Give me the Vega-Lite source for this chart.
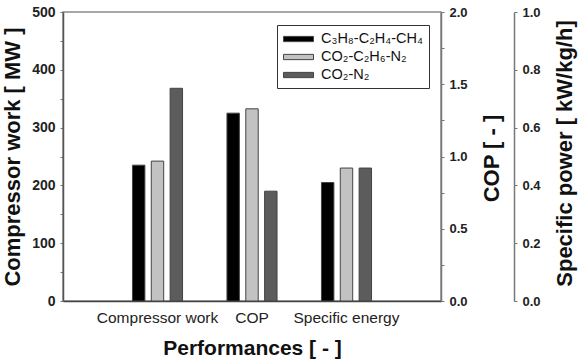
{
  "$schema": "https://vega.github.io/schema/vega-lite/v6.json",
  "autosize": {"type": "none"},
  "padding": {"left": 63, "top": 12, "right": 141, "bottom": 62},
  "width": 378,
  "height": 289,
  "background": "white",
  "config": {
    "font": "Liberation Sans",
    "view": {"stroke": "#8a8a8a", "strokeWidth": 1.5},
    "axis": {
      "labelFont": "Liberation Sans",
      "titleFont": "Liberation Sans",
      "labelColor": "#222",
      "titleColor": "#111",
      "domainColor": "#777",
      "domainWidth": 1.5,
      "tickColor": "#777",
      "grid": false
    }
  },
  "data": {
    "values": [
      {"metric": "Compressor work", "mixture": "C₃H₈-C₂H₄-CH₄", "value": 235},
      {"metric": "Compressor work", "mixture": "CO₂-C₂H₆-N₂", "value": 242},
      {"metric": "Compressor work", "mixture": "CO₂-N₂", "value": 368},
      {"metric": "COP", "mixture": "C₃H₈-C₂H₄-CH₄", "value": 1.30},
      {"metric": "COP", "mixture": "CO₂-C₂H₆-N₂", "value": 1.33},
      {"metric": "COP", "mixture": "CO₂-N₂", "value": 0.76},
      {"metric": "Specific energy", "mixture": "C₃H₈-C₂H₄-CH₄", "value": 0.41},
      {"metric": "Specific energy", "mixture": "CO₂-C₂H₆-N₂", "value": 0.46},
      {"metric": "Specific energy", "mixture": "CO₂-N₂", "value": 0.46}
    ]
  },
  "encoding": {
    "x": {
      "field": "metric",
      "type": "nominal",
      "sort": ["Compressor work", "COP", "Specific energy"],
      "scale": {"domain": ["Compressor work", "COP", "Specific energy"], "paddingInner": 0.47, "paddingOuter": 0.735},
      "axis": {
        "title": "Performances [ - ]",
        "titleFontSize": 21,
        "titleFontWeight": "bold",
        "titlePadding": 12,
        "labelAngle": 0,
        "labelFontSize": 15.5,
        "labelPadding": 9,
        "ticks": false,
        "domainColor": "#444"
      }
    },
    "xOffset": {
      "field": "mixture",
      "type": "nominal",
      "sort": ["C₃H₈-C₂H₄-CH₄", "CO₂-C₂H₆-N₂", "CO₂-N₂"],
      "scale": {"paddingInner": 0.34, "paddingOuter": 0}
    },
    "color": {
      "field": "mixture",
      "type": "nominal",
      "sort": ["C₃H₈-C₂H₄-CH₄", "CO₂-C₂H₆-N₂", "CO₂-N₂"],
      "scale": {
        "domain": ["C₃H₈-C₂H₄-CH₄", "CO₂-C₂H₆-N₂", "CO₂-N₂"],
        "range": ["#000000", "#c2c2c2", "#5c5c5c"]
      },
      "legend": {
        "title": null,
        "orient": "none",
        "legendX": 214,
        "legendY": 13,
        "strokeColor": "#333",
        "padding": 6,
        "fillColor": "white",
        "labelFont": "Liberation Sans",
        "labelFontSize": 14.5,
        "labelColor": "#111",
        "symbolType": "M-1,-0.35H3V0.35H-1Z",
        "symbolSize": 225,
        "symbolStrokeColor": "#444",
        "symbolStrokeWidth": 1,
        "symbolOpacity": 1,
        "rowPadding": 3,
        "labelOffset": 22
      }
    }
  },
  "layer": [
    {
      "transform": [{"filter": "datum.metric === 'Compressor work'"}],
      "mark": {"type": "bar", "stroke": "#444", "strokeWidth": 1},
      "encoding": {
        "y": {
          "field": "value",
          "type": "quantitative",
          "scale": {"domain": [0, 500], "nice": false},
          "axis": {
            "orient": "left",
            "title": "Compressor work [ MW ]",
            "titleFontSize": 22,
            "titleFontWeight": "bold",
            "titlePadding": 7,
            "values": [0, 50, 100, 150, 200, 250, 300, 350, 400, 450, 500],
            "labelExpr": "datum.value % 100 === 0 ? datum.label : ''",
            "labelFontSize": 14,
            "labelFontWeight": "bold",
            "tickSize": 3,
            "labelPadding": 5,
            "domainColor": "#555"
          }
        }
      }
    },
    {
      "transform": [{"filter": "datum.metric === 'COP'"}],
      "mark": {"type": "bar", "stroke": "#444", "strokeWidth": 1},
      "encoding": {
        "y": {
          "field": "value",
          "type": "quantitative",
          "scale": {"domain": [0, 2], "nice": false},
          "axis": {
            "orient": "right",
            "title": "COP [ - ]",
            "titleAngle": 270,
            "titleBaseline": "top",
            "titleAlign": "center",
            "titleY": 146,
            "titleFontSize": 22,
            "titleFontWeight": "bold",
            "titlePadding": 14,
            "values": [0, 0.25, 0.5, 0.75, 1, 1.25, 1.5, 1.75, 2],
            "format": ".1f",
            "labelExpr": "(datum.value * 2) % 1 === 0 ? datum.label : ''",
            "labelFontSize": 13,
            "labelFontWeight": "bold",
            "tickSize": 3,
            "labelPadding": 5
          }
        }
      }
    },
    {
      "transform": [{"filter": "datum.metric === 'Specific energy'"}],
      "mark": {"type": "bar", "stroke": "#444", "strokeWidth": 1},
      "encoding": {
        "y": {
          "field": "value",
          "type": "quantitative",
          "scale": {"domain": [0, 1], "nice": false},
          "axis": {
            "orient": "right",
            "offset": 73,
            "title": "Specific power [ kW/kg/h]",
            "titleAngle": 270,
            "titleBaseline": "top",
            "titleAlign": "center",
            "titleY": 141,
            "titleFontSize": 22,
            "titleFontWeight": "bold",
            "titlePadding": 14,
            "values": [0, 0.2, 0.4, 0.6, 0.8, 1],
            "format": ".1f",
            "labelFontSize": 13,
            "labelFontWeight": "bold",
            "tickSize": 3,
            "labelPadding": 5
          }
        }
      }
    }
  ],
  "resolve": {"scale": {"y": "independent"}, "axis": {"y": "independent"}}
}
